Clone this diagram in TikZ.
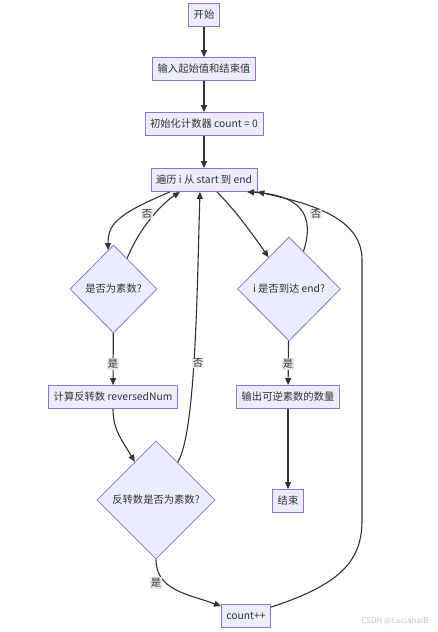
\documentclass[tikz,border=0pt]{standalone}
\usepackage{fontspec}
\setmainfont{Noto Sans CJK SC}
\usetikzlibrary{positioning, shapes.geometric}
\usetikzlibrary{arrows.meta}

\definecolor{boxfill}{HTML}{ECECFF}
\definecolor{boxline}{HTML}{9370DB}
\definecolor{edgeline}{HTML}{333333}
\definecolor{lblfill}{HTML}{E8E8E8}

\begin{document}
\begin{tikzpicture}[x=1pt, y=-1pt, font=\fontsize{10.3}{12}\selectfont,
  >={Triangle[length=7pt, width=6pt]},
  stepbox/.style={draw=boxline, fill=boxfill, line width=0.8pt, inner xsep=5pt, minimum height=23pt, text=black!80},
  decide/.style={draw=boxline, fill=boxfill, line width=0.8pt, diamond, aspect=1, inner sep=0pt, text=black!80},
  flow/.style={->, draw=edgeline, line width=1.1pt},
  lbl/.style={fill=lblfill, inner sep=1pt, text=black!80}]

% Manually size the picture
\useasboundingbox (0, 0) rectangle (438, 632);

% Top chain
\node[stepbox] (start) at (204, 15) {开始};
\node[stepbox] (input) at (204, 69) {输入起始值和结束值};
\node[stepbox] (init) at (204, 124) {初始化计数器 count = 0};
\node[stepbox] (loop) at (204, 180) {遍历 i 从 start 到 end};

% Decisions
\node[decide, minimum width=87pt, minimum height=88pt] (prime) at (113.5, 289) {是否为素数?};
\node[decide, minimum width=103pt, minimum height=104pt] (reach) at (289, 289) {i 是否到达 end?};
\node[decide, minimum width=118pt, minimum height=118pt] (revprime) at (156, 500) {反转数是否为素数?};

% Lower boxes
\node[stepbox] (calc) at (113, 397) {计算反转数 reversedNum};
\node[stepbox] (output) at (288, 397) {输出可逆素数的数量};
\node[stepbox] (finish) at (288, 501) {结束};
\node[stepbox] (count) at (246, 616) {count++};

% Straight arrows
\draw[flow] (start) -- (input);
\draw[flow] (input) -- (init);
\draw[flow] (init) -- (loop);
\draw[flow] (prime) -- (calc);
\draw[flow] (reach) -- (output);
\draw[flow] (output) -- (finish);

% Loop to the two checks
\draw[flow] ([xshift=-34pt]loop.south) .. controls +(-55, 23) and +(0, -25) .. (prime.98);
\draw[flow] ([xshift=13pt]loop.south) .. controls +(20, 20) and +(-10, -15) .. (reach.123);

% Back to loop
\draw[flow] (prime.66) .. controls +(11, -28) and +(-20, 13) .. ([xshift=-24pt]loop.south);
\draw[flow] (revprime.60) .. controls +(18, -30) and +(-3, 100) .. ([xshift=-4pt]loop.south);
\draw[flow] (reach.69) .. controls +(12, -37) and +(53, 3) .. ([xshift=43pt]loop.south);
\draw[flow] ([yshift=-3pt]count.north east) .. controls +(71, -23) and +(0, 40) .. (362, 520)
  -- (362, 260) .. controls +(0, -40) and +(60, 13) .. (loop.south east);

% Reversed number
\draw[flow] (calc.south) .. controls +(0, 21) and +(-13, -22) .. (revprime.119);
\draw[flow] (revprime.south) .. controls +(0, 31) and +(-33, -12) .. ([yshift=-2pt]count.north west);

% Edge labels
\node[lbl] (no1) at (147, 214) {否};
\node[lbl] (no2) at (316, 214) {否};
\node[lbl] (no3) at (198, 363) {否};
\node[lbl] (yes1) at (113, 364) {是};
\node[lbl] (yes2) at (288, 364) {是};
\node[lbl] (yes3) at (156, 583) {是};

% Watermark
\node[text=black!22, font=\fontsize{8}{9}\selectfont] (mark) at (395, 621) {CSDN @LucianaiB};

\end{tikzpicture}
\end{document}
